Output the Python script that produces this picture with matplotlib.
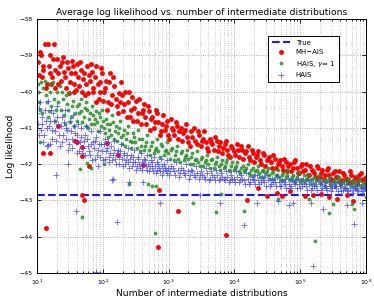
import matplotlib
matplotlib.use("Agg")
import matplotlib.pyplot as plt
import numpy as np

# (number of intermediate distributions, log likelihood)
true_ll = -42.85

mh_ais = [(10.5, -39.2), (11, -38.9), (12, -39.6), (12.5, -39.4), (13, -38.7), (14, -39.8), (14.5, -38.7),
          (15, -39.3), (16, -39.0), (17, -39.6), (18, -38.7), (19, -39.9), (20, -39.1), (21, -39.5),
          (23, -39.7), (24, -39.2), (26, -39.45), (28, -39.9), (30, -39.35), (32, -39.75), (34, -39.15),
          (36, -40.0), (38, -39.5), (41, -39.25), (44, -39.85), (47, -39.4), (50, -39.65), (54, -40.1),
          (57, -39.3), (61, -39.55), (65, -39.25), (70, -39.9), (75, -39.6), (80, -39.3), (86, -40.2),
          (92, -39.75), (98, -39.5), (105, -40.0), (112, -39.7), (120, -40.3), (130, -39.5), (140, -40.1),
          (150, -39.85), (162, -40.4), (175, -40.05), (190, -39.75), (205, -40.55), (220, -40.0),
          (240, -40.3), (260, -40.7), (280, -40.15), (300, -40.45), (330, -40.8), (360, -40.2),
          (390, -40.6), (420, -40.35), (460, -40.9), (500, -40.55), (540, -40.75), (590, -41.0),
          (640, -40.5), (700, -40.85), (760, -41.1), (830, -40.65), (900, -40.95), (980, -41.2),
          (1070, -40.75), (1170, -41.05), (1280, -40.85), (1400, -41.3), (1530, -41.0), (1670, -41.15),
          (1820, -40.9), (2000, -41.4), (2200, -41.1), (2400, -41.0), (2650, -41.45), (2900, -41.2),
          (3200, -41.35), (3500, -41.1), (3850, -41.55), (4200, -41.3), (4600, -41.45), (5100, -41.25),
          (5600, -41.65), (6100, -41.4), (6700, -41.55), (7400, -41.35), (8100, -41.75), (8900, -41.5),
          (9800, -41.65), (10800, -41.45), (11900, -41.8), (13100, -41.6), (14400, -41.7), (15800, -41.5),
          (17400, -41.9), (19100, -41.7), (21000, -41.8), (23100, -41.65), (25400, -42.0), (28000, -41.75),
          (30800, -41.9), (33900, -41.8), (37300, -42.1), (41000, -41.85), (45100, -42.0), (49600, -41.9),
          (54600, -42.15), (60000, -41.95), (66000, -42.05), (72600, -42.2), (79900, -41.95),
          (87900, -42.1), (96700, -42.25), (106000, -42.0), (117000, -42.15), (129000, -42.3),
          (142000, -42.05), (156000, -42.2), (171000, -42.35), (188000, -42.1), (207000, -42.25),
          (228000, -42.4), (251000, -42.15), (276000, -42.3), (304000, -42.45), (334000, -42.2),
          (367000, -42.35), (404000, -42.5), (444000, -42.25), (489000, -42.4), (538000, -42.5),
          (592000, -42.3), (651000, -42.45), (716000, -42.55), (788000, -42.3), (867000, -42.45),
          (954000, -42.5),
          (10.8, -39.55), (11.5, -39.0), (12.2, -39.3), (13.5, -39.9), (15.5, -39.5), (16.5, -39.8),
          (17.5, -39.1), (18.5, -39.4), (20.5, -39.8), (22, -39.3), (25, -39.05), (27, -39.6),
          (29, -39.2), (31, -40.05), (33, -39.5), (35, -39.3), (37, -39.8), (39, -39.95), (42, -39.6),
          (45, -39.2), (49, -40.0), (52, -39.5), (56, -39.8), (59, -40.05), (63, -39.7), (68, -39.45),
          (72, -40.0), (78, -40.3), (84, -39.8), (90, -40.0), (95, -39.35), (102, -40.25), (108, -39.9),
          (116, -40.5), (125, -39.75), (135, -40.35), (145, -39.6), (156, -40.2), (168, -40.6),
          (182, -40.3), (198, -40.1), (212, -40.35), (230, -40.7), (250, -40.0), (270, -40.5),
          (290, -40.8), (315, -40.25), (345, -40.6), (375, -40.9), (405, -40.5), (440, -40.7),
          (480, -40.4), (520, -41.05), (565, -40.7), (615, -40.85), (670, -40.6), (730, -41.2),
          (795, -40.9), (865, -41.05), (940, -40.8), (1020, -41.3), (1120, -41.0), (1220, -41.2),
          (1340, -40.95), (1460, -41.1), (1600, -41.35), (1740, -41.05), (1910, -41.25), (2100, -41.5),
          (2300, -41.25), (2520, -41.35), (2770, -41.1), (3050, -41.5), (3350, -41.3), (3680, -41.4),
          (4000, -41.65), (4400, -41.4), (4850, -41.6), (5350, -41.35), (5850, -41.5), (6400, -41.7),
          (7050, -41.45), (7750, -41.6), (8500, -41.8), (9300, -41.55), (10300, -41.75), (11300, -41.6),
          (12500, -41.5), (13700, -41.85), (15100, -41.65), (16600, -41.8), (18200, -41.6),
          (20000, -41.95), (22000, -41.75), (24200, -41.9), (26700, -41.7), (29300, -42.05),
          (32300, -41.85), (35500, -41.95), (39100, -41.75), (43000, -42.1), (47300, -41.95),
          (52000, -42.05), (57200, -41.85), (63000, -42.2), (69200, -42.0), (76200, -42.1),
          (83800, -41.9), (92200, -42.25), (101000, -42.05), (111000, -42.2), (122000, -42.0),
          (135000, -42.3), (148000, -42.15), (163000, -42.25), (179000, -42.05), (197000, -42.35),
          (217000, -42.15), (239000, -42.3), (263000, -42.1), (289000, -42.4), (318000, -42.25),
          (350000, -42.35), (385000, -42.2), (424000, -42.45), (466000, -42.3), (512000, -42.4),
          (564000, -42.2), (620000, -42.5), (682000, -42.35), (750000, -42.4), (825000, -42.25),
          (907000, -42.4), (980000, -42.35),
          # stragglers
          (12.5, -41.69), (16, -41.69), (13.7, -43.75), (47.8, -41.79), (48.8, -42.85), (52, -43.0),
          (62, -42.04), (404, -42.03), (714, -42.72), (690, -44.27), (1375, -43.3), (7440, -43.96),
          (15500, -43.0), (31000, -42.87), (53000, -42.87), (158000, -42.84), (630000, -43.03),
          (270000, -42.92), (23000, -42.66), (44000, -42.8), (70000, -42.73), (117000, -42.88),
          (206000, -42.82), (360000, -42.96), (520000, -42.85), (48, -41.52), (38, -41.36),
          (114, -41.42), (168, -41.75), (40, -41.38), (21, -40.95)]

hais_g1 = [(10.2, -39.8), (10.8, -40.3), (11.5, -39.75), (12, -40.6), (13, -39.7), (13.5, -40.1),
           (14.5, -40.7), (15.5, -39.8), (16.5, -40.4), (17.5, -39.75), (19, -40.8), (20, -40.0),
           (22, -39.85), (23.5, -40.5), (25, -40.2), (27, -40.9), (29, -40.35), (31, -40.0), (33, -40.7),
           (35, -40.25), (37, -40.95), (40, -40.4), (43, -40.6), (46, -40.2), (49, -40.85), (53, -40.45),
           (56, -40.3), (60, -41.0), (64, -40.6), (68, -40.4), (73, -40.9), (78, -40.55), (84, -41.1),
           (90, -40.7), (96, -40.5), (103, -41.0), (110, -40.75), (118, -41.25), (127, -40.9),
           (136, -40.65), (146, -41.3), (156, -40.95), (168, -41.15), (180, -40.8), (195, -41.45),
           (210, -41.05), (225, -41.3), (245, -40.95), (265, -41.55), (285, -41.15), (310, -41.4),
           (340, -41.05), (370, -41.65), (400, -41.3), (435, -41.5), (475, -41.2), (520, -41.75),
           (565, -41.4), (615, -41.6), (670, -41.3), (730, -41.8), (800, -41.5), (870, -41.65),
           (950, -41.4), (1040, -41.85), (1130, -41.55), (1230, -41.75), (1350, -41.5), (1470, -41.95),
           (1600, -41.65), (1750, -41.8), (1900, -41.6), (2080, -42.0), (2270, -41.7), (2480, -41.9),
           (2700, -41.65), (2950, -42.05), (3220, -41.8), (3520, -41.95), (3850, -41.75), (4200, -42.1),
           (4600, -41.85), (5000, -42.0), (5500, -41.8), (6000, -42.15), (6500, -41.9), (7100, -42.05),
           (7800, -41.85), (8500, -42.2), (9300, -41.95), (10200, -42.1), (11100, -41.95),
           (12200, -42.25), (13300, -42.05), (14500, -42.15), (15900, -42.0), (17300, -42.3),
           (18900, -42.1), (20700, -42.2), (22600, -42.05), (24700, -42.35), (27000, -42.15),
           (29500, -42.25), (32200, -42.1), (35200, -42.4), (38500, -42.2), (42000, -42.3),
           (46000, -42.15), (50200, -42.45), (54900, -42.25), (60000, -42.35), (65500, -42.2),
           (71600, -42.45), (78200, -42.3), (85500, -42.4), (93400, -42.25), (102000, -42.5),
           (112000, -42.3), (122000, -42.4), (133000, -42.3), (146000, -42.55), (159000, -42.35),
           (174000, -42.45), (190000, -42.3), (208000, -42.55), (227000, -42.4), (248000, -42.5),
           (271000, -42.35), (296000, -42.6), (324000, -42.4), (354000, -42.5), (386000, -42.35),
           (422000, -42.6), (461000, -42.45), (504000, -42.55), (551000, -42.4), (602000, -42.6),
           (658000, -42.45), (719000, -42.55), (785000, -42.4), (858000, -42.65), (938000, -42.5),
           (990000, -42.6),
           (10.5, -40.0), (11.2, -40.5), (12.5, -39.9), (14, -40.3), (15, -40.55), (16, -40.0),
           (18, -40.2), (19.5, -40.5), (21, -40.3), (24, -40.0), (26, -40.65), (28, -40.1), (30, -40.5),
           (32, -40.85), (34, -40.4), (38, -40.6), (41, -40.8), (44, -40.35), (47, -40.55), (51, -40.7),
           (55, -40.95), (58, -40.5), (62, -40.75), (66, -40.9), (71, -40.65), (76, -40.75), (81, -40.85),
           (87, -40.6), (93, -40.95), (100, -40.8), (107, -41.15), (114, -40.9), (122, -41.05),
           (131, -41.2), (141, -40.85), (151, -41.1), (162, -41.35), (174, -41.0), (188, -41.25),
           (202, -41.2), (218, -41.5), (235, -41.15), (255, -41.35), (275, -41.4), (298, -41.25),
           (325, -41.55), (355, -41.3), (385, -41.5), (418, -41.6), (455, -41.4), (497, -41.6),
           (542, -41.5), (590, -41.7), (642, -41.55), (700, -41.65), (765, -41.45), (835, -41.75),
           (910, -41.6), (990, -41.7), (1090, -41.6), (1190, -41.9), (1290, -41.65), (1410, -41.85),
           (1540, -41.7), (1680, -41.9), (1830, -41.75), (2000, -41.85), (2180, -41.8), (2380, -42.0),
           (2600, -41.85), (2830, -41.95), (3090, -41.85), (3370, -42.05), (3680, -41.9), (4020, -42.0),
           (4390, -41.9), (4800, -42.1), (5250, -41.95), (5730, -42.05), (6250, -42.0), (6820, -42.1),
           (7450, -41.95), (8130, -42.15), (8900, -42.05), (9700, -42.15), (10600, -42.05),
           (11600, -42.2), (12700, -42.1), (13900, -42.2), (15200, -42.1), (16600, -42.25),
           (18100, -42.15), (19800, -42.3), (21600, -42.15), (23600, -42.25), (25800, -42.2),
           (28200, -42.35), (30800, -42.2), (33700, -42.3), (36800, -42.25), (40200, -42.4),
           (44000, -42.3), (48000, -42.35), (52500, -42.3), (57400, -42.45), (62700, -42.3),
           (68500, -42.4), (74900, -42.35), (81800, -42.5), (89400, -42.35), (97700, -42.45),
           (107000, -42.4), (117000, -42.5), (128000, -42.4), (140000, -42.45), (153000, -42.4),
           (167000, -42.55), (182000, -42.45), (199000, -42.5), (218000, -42.45), (238000, -42.6),
           (260000, -42.45), (284000, -42.55), (311000, -42.5), (340000, -42.6), (371000, -42.45),
           (406000, -42.55), (443000, -42.5), (485000, -42.65), (530000, -42.5), (579000, -42.55),
           (633000, -42.5), (692000, -42.65), (756000, -42.5), (826000, -42.6), (903000, -42.55),
           (965000, -42.65),
           # stragglers
           (11.1, -41.38), (45, -42.13), (57, -41.97), (65, -42.12), (105, -42.0), (49, -43.46),
           (250, -42.55), (620, -43.89), (2380, -43.06), (5200, -43.31), (6200, -42.83),
           (14000, -43.28), (46000, -42.96), (135000, -42.96), (310000, -43.1), (270000, -43.35),
           (650000, -43.24), (170000, -44.12), (610000, -43.11), (480, -42.55), (560, -42.6),
           (650, -42.6), (990000, -42.9)]

hais = [(10.1, -40.6), (10.6, -41.2), (11.2, -40.3), (11.8, -40.9), (12.4, -41.4), (13.2, -40.5),
        (14, -41.0), (14.8, -40.25), (15.7, -40.8), (16.6, -41.3), (17.6, -40.6), (18.7, -41.1),
        (19.8, -40.4), (21, -40.9), (22.3, -41.5), (23.6, -40.7), (25, -41.2), (26.5, -40.5),
        (28, -41.0), (29.7, -41.6), (31.5, -40.8), (33.4, -41.3), (35.4, -40.65), (37.5, -41.15),
        (39.8, -41.7), (42, -40.9), (44.6, -41.4), (47.3, -41.0), (50, -41.55), (53, -41.2),
        (56, -40.95), (60, -41.5), (63, -41.75), (67, -41.1), (71, -41.4), (75, -41.85), (80, -41.25),
        (85, -41.6), (90, -41.1), (95, -41.45), (100, -41.9), (106, -41.3), (112, -41.65),
        (119, -41.4), (126, -41.95), (134, -41.5), (142, -41.75), (150, -41.35), (159, -42.0),
        (168, -41.6), (178, -41.8), (189, -41.45), (200, -42.05), (212, -41.7), (225, -41.9),
        (238, -41.55), (252, -42.1), (267, -41.75), (283, -41.95), (300, -41.6), (318, -42.15),
        (337, -41.8), (357, -42.0), (378, -41.7), (400, -42.15), (424, -41.85), (450, -42.05),
        (476, -41.75), (505, -42.2), (535, -41.9), (567, -42.1), (600, -41.8), (636, -42.25),
        (674, -41.95), (714, -42.1), (757, -41.85), (802, -42.3), (850, -42.0), (900, -42.15),
        (955, -41.9), (1010, -42.3), (1100, -42.05), (1200, -42.2), (1310, -41.95), (1430, -42.35),
        (1560, -42.1), (1700, -42.25), (1850, -42.0), (2020, -42.4), (2200, -42.15), (2400, -42.3),
        (2620, -42.05), (2860, -42.4), (3120, -42.2), (3400, -42.35), (3710, -42.1), (4050, -42.45),
        (4420, -42.2), (4820, -42.35), (5260, -42.15), (5740, -42.45), (6260, -42.25), (6830, -42.4),
        (7450, -42.2), (8130, -42.5), (8870, -42.3), (9680, -42.4), (10600, -42.2), (11600, -42.5),
        (12700, -42.3), (13900, -42.45), (15200, -42.25), (16600, -42.55), (18200, -42.35),
        (19900, -42.45), (21800, -42.3), (23800, -42.55), (26000, -42.35), (28500, -42.5),
        (31200, -42.3), (34100, -42.6), (37300, -42.4), (40800, -42.5), (44600, -42.35),
        (48800, -42.6), (53400, -42.45), (58400, -42.55), (63900, -42.4), (69900, -42.65),
        (76500, -42.45), (83700, -42.55), (91600, -42.4), (100000, -42.65), (109000, -42.45),
        (120000, -42.6), (131000, -42.45), (143000, -42.7), (157000, -42.5), (172000, -42.6),
        (188000, -42.45), (205000, -42.7), (225000, -42.5), (246000, -42.65), (269000, -42.5),
        (294000, -42.75), (322000, -42.55), (352000, -42.65), (385000, -42.5), (421000, -42.75),
        (461000, -42.55), (504000, -42.7), (551000, -42.55), (603000, -42.8), (660000, -42.6),
        (722000, -42.7), (790000, -42.55), (864000, -42.8), (945000, -42.6), (995000, -42.7),
        (10.3, -40.9), (10.9, -40.45), (11.5, -41.05), (12.1, -40.7), (12.8, -41.2), (13.6, -40.8),
        (14.4, -41.5), (15.2, -40.95), (16.1, -40.5), (17.1, -41.05), (18.1, -40.8), (19.2, -41.35),
        (20.4, -40.7), (21.6, -41.2), (22.9, -40.95), (24.3, -41.4), (25.7, -40.85), (27.2, -41.3),
        (28.9, -41.05), (30.6, -41.45), (32.5, -41.1), (34.4, -41.55), (36.5, -40.95), (38.6, -41.4),
        (40.9, -41.2), (43.3, -41.65), (45.9, -41.25), (48.6, -41.7), (51.5, -41.35), (54.5, -41.75),
        (57.8, -41.3), (61.3, -41.65), (65, -41.45), (68.8, -41.9), (73, -41.55), (77.3, -41.35),
        (82, -41.75), (87, -41.45), (92, -41.8), (97.5, -41.65), (103, -41.45), (109, -41.85),
        (116, -41.55), (122, -41.8), (130, -41.7), (138, -41.9), (146, -41.6), (155, -41.85),
        (164, -41.7), (173, -42.0), (184, -41.65), (195, -41.85), (206, -41.75), (219, -42.0),
        (232, -41.75), (245, -41.95), (260, -41.85), (276, -42.05), (292, -41.8), (310, -41.95),
        (328, -42.05), (348, -41.85), (368, -42.1), (390, -41.95), (413, -42.0), (438, -41.9),
        (464, -42.15), (491, -42.0), (521, -42.05), (552, -41.95), (585, -42.2), (620, -42.05),
        (656, -42.15), (696, -42.0), (737, -42.2), (781, -42.05), (828, -42.2), (877, -42.1),
        (929, -42.25), (985, -42.1), (1050, -42.2), (1150, -42.1), (1250, -42.3), (1370, -42.15),
        (1500, -42.25), (1630, -42.15), (1780, -42.3), (1940, -42.2), (2110, -42.3), (2300, -42.2),
        (2510, -42.35), (2740, -42.25), (2990, -42.3), (3260, -42.3), (3550, -42.4), (3880, -42.25),
        (4230, -42.4), (4620, -42.3), (5040, -42.45), (5500, -42.3), (6000, -42.4), (6550, -42.35),
        (7140, -42.45), (7790, -42.35), (8500, -42.45), (9270, -42.4), (10100, -42.5), (11100, -42.35),
        (12100, -42.45), (13200, -42.4), (14500, -42.55), (15900, -42.4), (17400, -42.5),
        (19000, -42.4), (20800, -42.55), (22800, -42.45), (24900, -42.5), (27200, -42.45),
        (29800, -42.6), (32600, -42.45), (35700, -42.55), (39000, -42.5), (42700, -42.6),
        (46700, -42.5), (51100, -42.6), (55900, -42.5), (61100, -42.65), (66800, -42.55),
        (73100, -42.6), (80000, -42.5), (87500, -42.65), (95700, -42.55), (105000, -42.6),
        (115000, -42.55), (125000, -42.7), (137000, -42.55), (150000, -42.65), (164000, -42.6),
        (180000, -42.7), (196000, -42.55), (215000, -42.65), (235000, -42.6), (257000, -42.7),
        (281000, -42.6), (307000, -42.65), (336000, -42.6), (368000, -42.75), (402000, -42.6),
        (440000, -42.7), (481000, -42.65), (526000, -42.75), (575000, -42.65), (629000, -42.7),
        (688000, -42.65), (752000, -42.75), (823000, -42.65), (900000, -42.75), (970000, -42.65),
        # stragglers
        (29.9, -42.0), (19.2, -42.31), (39.5, -43.29), (78, -44.98), (166, -43.59), (143, -42.4),
        (138, -42.45), (253, -42.49), (85, -42.04), (410, -42.5), (14.8, -41.48), (15.8, -41.45),
        (740, -43.08), (6000, -43.08), (14000, -43.68), (21700, -43.06), (46000, -43.01),
        (68000, -43.13), (78000, -43.08), (220000, -43.23), (158000, -44.8), (650000, -43.66),
        (510000, -43.13), (850000, -43.08), (145000, -43.08), (3000, -42.85)]

mh_x, mh_y = np.array(mh_ais).T
g_x, g_y = np.array(hais_g1).T
h_x, h_y = np.array(hais).T

fig = plt.figure(figsize=(3.74, 3.0), dpi=100)
ax = fig.add_axes([0.099, 0.09, 0.88, 0.847])

ax.plot([10, 1e6], [true_ll, true_ll], '--', color='#1a1aff', lw=1.5, label='True')
ax.plot(mh_x, mh_y, 'o', color='red', ms=3.5, mec='none', label='MH\u2212AIS')
ax.plot(g_x, g_y, 'o', color='#2e8b2e', ms=2.8, mec='none', alpha=0.85,
        label='HAIS, $\\gamma$= 1')
ax.plot(h_x, h_y, '+', color='#4040ff', ms=3.8, mew=0.6, alpha=0.8, label='HAIS')

ax.set_xscale('log')
ax.set_xlim(10, 1e6)
ax.set_ylim(-45, -38)
ax.set_yticks(np.arange(-45, -37))
ax.set_yticklabels(['\u2212%d' % -v for v in np.arange(-45, -37)])

ax.grid(True, which='major', ls=':', color='#999999', lw=0.6)
ax.grid(True, which='minor', axis='x', ls=':', color='#bbbbbb', lw=0.6)
ax.tick_params(which='both', direction='in', top=True, right=True, labelsize=4.5,
               length=3, width=0.6)
ax.tick_params(which='minor', length=1.5)
for s in ax.spines.values():
    s.set_linewidth(0.7)

ax.set_title('Average log likelihood vs. number of intermediate distributions',
             fontsize=6.6, pad=3)
ax.set_xlabel('Number of intermediate distributions', fontsize=6.6, labelpad=1)
ax.set_ylabel('Log likelihood', fontsize=6.6, labelpad=3)

leg = ax.legend(loc='upper right', bbox_to_anchor=(0.928, 0.948), fontsize=5,
                fancybox=False, edgecolor='black', framealpha=1, borderpad=0.6,
                handlelength=2.6, labelspacing=0.5, numpoints=1)
leg.get_frame().set_linewidth(0.7)

fig.savefig('out.png', dpi=100)
